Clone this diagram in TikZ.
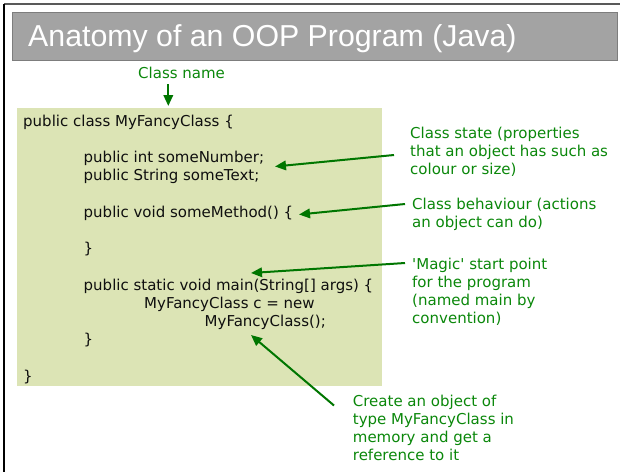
\documentclass[tikz,border=0pt]{standalone}
\usepackage{fontspec}
\setmainfont{DejaVu Sans}
\newfontfamily\straightfont{DejaVu Sans}[Ligatures=TeXOff]
\newfontfamily\titlefont{Liberation Sans}
\usetikzlibrary{arrows.meta}

\definecolor{codebg}{RGB}{220,228,181}
\definecolor{notegreen}{RGB}{10,135,10}
\definecolor{arrowgreen}{RGB}{0,118,0}
\definecolor{barfill}{RGB}{163,163,163}
\definecolor{barline}{RGB}{125,125,125}
\definecolor{codeink}{RGB}{15,15,15}

\tikzset{
  codeline/.style={anchor=base west, inner sep=0pt, text=codeink,
    font=\fontsize{15}{18.2}\selectfont},
  note/.style={anchor=north west, inner sep=0pt, align=left, text=notegreen,
    font=\fontsize{15}{18}\selectfont},
  pointer/.style={draw=arrowgreen, line width=2pt,
    -{Triangle[length=11pt,width=9.5pt]}},
}

\begin{document}
\begin{tikzpicture}[x=1pt,y=-1pt]
  \useasboundingbox (0,0) rectangle (620,472);

  % slide frame
  \draw[line width=1.6pt, black!65] (4,4) -- (620,4);
  \draw[line width=1.8pt, black] (4,4) -- (4,472);

  % title bar
  \draw[fill=barfill, draw=barline, line width=1pt] (12.3,12.3) rectangle (617.5,60.3);
  \node[anchor=base west, inner sep=0pt, text=white,
        font=\titlefont\fontsize{30.3}{36}\selectfont] (title) at (28,46)
        {Anatomy of an OOP Program (Java)};

  % code panel
  \fill[codebg] (16.7,107.5) rectangle (382,386);

  \node[codeline] (c1)  at (23,126.3)    {public class MyFancyClass \{};
  \node[codeline] (c2)  at (83.5,162.7)  {public int someNumber;};
  \node[codeline] (c3)  at (83.5,180.9)  {public String someText;};
  \node[codeline] (c4)  at (83.5,217.3)  {public void someMethod() \{};
  \node[codeline] (c5)  at (83.5,253.7)  {\}};
  \node[codeline] (c6)  at (83.5,290.1)  {public static void main(String[] args) \{};
  \node[codeline] (c7)  at (144,308.3)   {MyFancyClass c = new};
  \node[codeline] (c8)  at (204.5,326.5) {MyFancyClass();};
  \node[codeline] (c9)  at (83.5,344.7)  {\}};
  \node[codeline] (c10) at (23,381.1)    {\}};

  % annotations
  \node[note] (nName)   at (138,65.5)  {\strut Class name};
  \node[note] (nState)  at (410,125.9) {\strut Class state (properties\\that an object has such as\\colour or size)};
  \node[note] (nBehav)  at (412,196.4) {\strut Class behaviour (actions\\an object can do)};
  \node[note, font=\straightfont\fontsize{15}{18}\selectfont] (nMagic) at (412,256.4)
        {\strut 'Magic' start point\\for the program\\(named main by\\convention)};
  \node[note] (nCreate) at (352.7,393.4) {\strut Create an object of\\type MyFancyClass in\\memory and get a\\reference to it};

  % pointer ends
  \coordinate (pNameA)   at (168.3,84);
  \coordinate (pNameB)   at (168.3,106);
  \coordinate (pStateA)  at (394,155);
  \coordinate (pStateB)  at (275,166.5);
  \coordinate (pBehavA)  at (405,204);
  \coordinate (pBehavB)  at (299,214.5);
  \coordinate (pMagicA)  at (405,263);
  \coordinate (pMagicB)  at (251,273);
  \coordinate (pCreateA) at (334,405.5);
  \coordinate (pCreateB) at (251,335);

  \draw[pointer] (pNameA) -- (pNameB);
  \draw[pointer] (pStateA) -- (pStateB);
  \draw[pointer] (pBehavA) -- (pBehavB);
  \draw[pointer] (pMagicA) -- (pMagicB);
  \draw[pointer] (pCreateA) -- (pCreateB);
\end{tikzpicture}
\end{document}
